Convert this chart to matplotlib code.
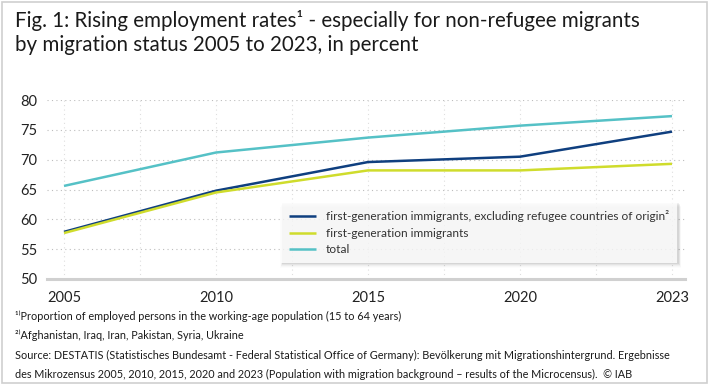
import matplotlib
matplotlib.use("Agg")
import matplotlib.pyplot as plt
from matplotlib.patches import Rectangle
import numpy as np

plt.rcParams['font.family'] = ['Lato', 'DejaVu Sans']

years = ["2005", "2010", "2015", "2020", "2023"]
excl_refugee = [57.9, 64.8, 69.6, 70.5, 74.7]
first_gen = [57.7, 64.5, 68.2, 68.2, 69.3]
total = [65.6, 71.2, 73.7, 75.7, 77.3]
series_labels = ["first-generation immigrants, excluding refugee countries of origin²",
                 "first-generation immigrants", "total"]
colors = ["#0f3f7f", "#cfdc2c", "#55c1c6"]
yticks = [50, 55, 60, 65, 70, 75, 80]

W, H = 710, 385
fig = plt.figure(figsize=(W / 100, H / 100), dpi=100)
fig.patch.set_facecolor("white")

def fx(px):
    return px / W

def fy(py):
    return 1 - py / H

# border
fig.add_artist(Rectangle((fx(2), fy(383)), fx(705), (381) / H, transform=fig.transFigure,
                         fill=False, edgecolor="#cfcfcf", linewidth=1.2))

ax_l, ax_r, ax_t, ax_b = 47, 685, 100, 279
ax = fig.add_axes([fx(ax_l), fy(ax_b), fx(ax_r - ax_l), (ax_b - ax_t) / H])
x = np.arange(len(years))
step = 152.0
xl = (ax_l - 64) / step
xr = 4 + (ax_r - 672) / step
ax.set_xlim(xl, xr)
ax.set_ylim(50, 80)

for s in ax.spines.values():
    s.set_visible(False)
ax.axhline(50, color="#d0d0d0", linewidth=2.2, zorder=2, clip_on=False)
for yv in yticks[1:]:
    ax.axhline(yv, color="#bdbdbd", linewidth=0.8, linestyle=(0, (1, 3)), zorder=1)
for xv in np.arange(0, 4.01, 0.5):
    ax.axvline(xv, color="#dedede", linewidth=0.8, linestyle=(0, (1, 3)), zorder=1)

data = [excl_refugee, first_gen, total]
handles = []
for vals, c, lab in zip(data, colors, series_labels):
    h, = ax.plot(x, vals, color=c, linewidth=1.8, label=lab, zorder=3, solid_capstyle="butt")
    handles.append(h)

ax.set_yticks(yticks)
ax.set_xticks(x)
ax.set_xticklabels(years)
ax.tick_params(axis="both", length=0, labelsize=10.5, colors="#222222")
ax.tick_params(axis="x", pad=9)
ax.tick_params(axis="y", pad=7)

leg = ax.legend(handles=handles, loc="upper left",
                bbox_to_anchor=((281 - ax_l) / (ax_r - ax_l), 1 - (202 - ax_t) / (ax_b - ax_t)),
                frameon=True, fancybox=False, fontsize=8.6, handlelength=2.2,
                handletextpad=0.85, labelspacing=0.45, borderpad=0.7, borderaxespad=0)
leg.get_frame().set_facecolor("white")
leg.get_frame().set_edgecolor("white")
leg.get_frame().set_linewidth(0)
leg.set_zorder(10)
for t in leg.get_texts():
    t.set_color("#333333")

fig.canvas.draw()
bb = leg.get_window_extent()
# soft shadow (pixel coordinates), drawn just below the legend
for i, a in enumerate([0.06, 0.045, 0.03, 0.02, 0.012]):
    off = 1 + i
    r = Rectangle((bb.x0 + 1 - i * 0.5, bb.y0 - off), bb.width + off, bb.height,
                  transform=None, facecolor="black", edgecolor="none",
                  alpha=a, zorder=9, clip_on=False)
    ax.add_artist(r)

fig.text(fx(15), fy(27), "Fig. 1: Rising employment rates¹ - especially for non-refugee migrants",
         fontsize=14.8, color="#1a1a1a", va="baseline")
fig.text(fx(15), fy(51), "by migration status 2005 to 2023, in percent",
         fontsize=14.8, color="#1a1a1a", va="baseline")

foot = ["¹⁾Proportion of employed persons in the working-age population (15 to 64 years)",
        "²⁾Afghanistan, Iraq, Iran, Pakistan, Syria, Ukraine",
        "Source: DESTATIS (Statistisches Bundesamt - Federal Statistical Office of Germany): Bevölkerung mit Migrationshintergrund. Ergebnisse",
        "des Mikrozensus 2005, 2010, 2015, 2020 and 2023 (Population with migration background – results of the Microcensus).  © IAB"]
for i, t in enumerate(foot):
    fig.text(fx(15), fy(320 + i * 19.3), t, fontsize=7.8, color="#1a1a1a", va="baseline")

fig.savefig("out.png", dpi=100, facecolor="white")
